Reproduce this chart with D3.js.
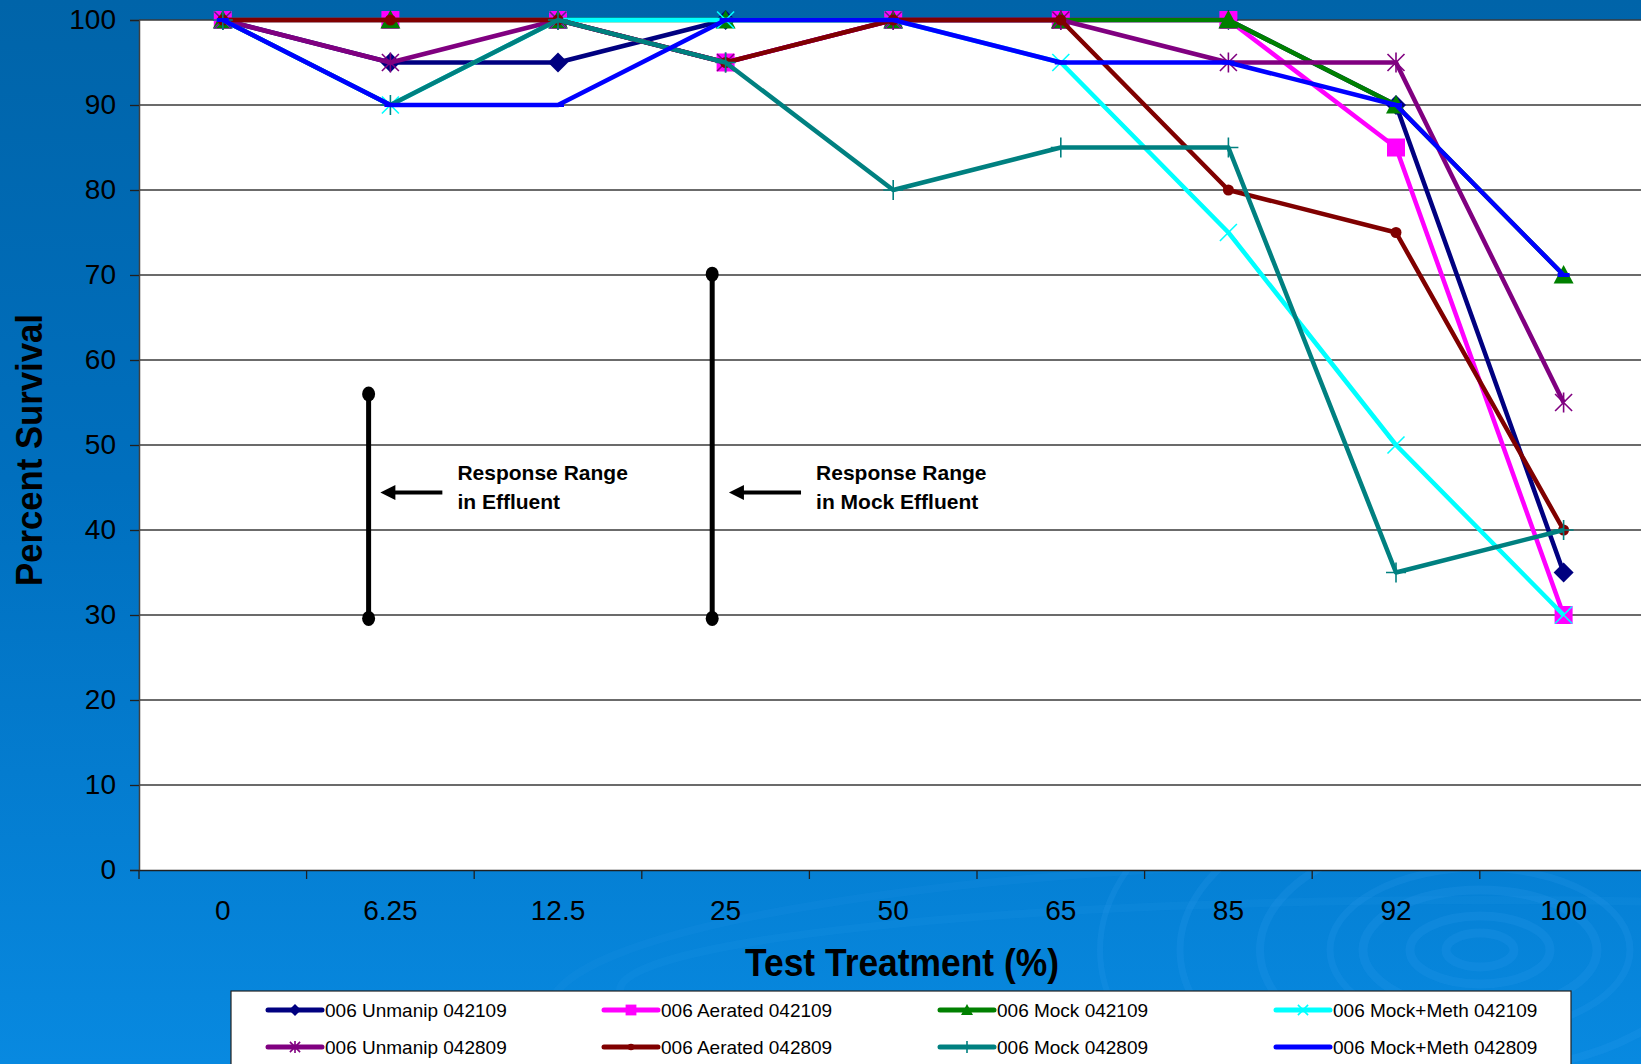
<!DOCTYPE html>
<html>
<head>
<meta charset="utf-8">
<script src="https://cdn.jsdelivr.net/npm/d3@7"></script>
<style>
html,body{margin:0;padding:0;overflow:hidden;background:#0070c0;}
svg{display:block;font-family:"Liberation Sans",Arial,sans-serif;}
</style>
</head>
<body>
<svg id="chart" width="1641" height="1064"></svg>
<script>
// ---------- data ----------
const categories = ["0","6.25","12.5","25","50","65","85","92","100"];
const seriesNames = [
  "006 Unmanip 042109","006 Aerated 042109","006 Mock 042109","006 Mock+Meth 042109",
  "006 Unmanip 042809","006 Aerated 042809","006 Mock 042809","006 Mock+Meth 042809"
];
const unmanip042109  = [100, 95, 95,100,100,100,100, 90, 35];
const aerated042109  = [100,100,100, 95,100,100,100, 85, 30];
const mock042109     = [100,100,100,100,100,100,100, 90, 70];
const mockMeth042109 = [100, 90,100,100,100, 95, 75, 50, 30];
const unmanip042809  = [100, 95,100, 95,100,100, 95, 95, 55];
const aerated042809  = [100,100,100, 95,100,100, 80, 75, 40];
const mock042809     = [100, 90,100, 95, 80, 85, 85, 35, 40];
const mockMeth042809 = [100, 90, 90,100,100, 95, 95, 90, 70];
const yTicks = [0,10,20,30,40,50,60,70,80,90,100];
// response-range annotations (category-index position, survival values)
const rangeBars = [
  {pos:0.87, lo:29.6, hi:56.0, arrowFrom:1.31, arrowTo:0.94, arrowAt:44.4, textPos:1.40, lines:["Response Range","in Effluent"]},
  {pos:2.92, lo:29.6, hi:70.1, arrowFrom:3.45, arrowTo:3.02, arrowAt:44.4, textPos:3.54, lines:["Response Range","in Mock Effluent"]}
];

const seriesValues = [unmanip042109, aerated042109, mock042109, mockMeth042109,
                      unmanip042809, aerated042809, mock042809, mockMeth042809];
const colors  = ["#000080","#FF00FF","#008000","#00FFFF","#800080","#800000","#008080","#0000FF"];
const markers = ["diamond","square","triangle","x","asterisk","circle","plus","dash"];

// ---------- layout ----------
const W = 1641, H = 1064;
const plotL = 139, plotT = 20, plotB = 870, band = 167.6;
const svg = d3.select("#chart");

// background gradient
const defs = svg.append("defs");
const g1 = defs.append("linearGradient").attr("id","bg").attr("x1",0).attr("y1",0).attr("x2",0).attr("y2",1);
g1.append("stop").attr("offset","0%").attr("stop-color","#0064a9");
g1.append("stop").attr("offset","45%").attr("stop-color","#006fbe");
g1.append("stop").attr("offset","100%").attr("stop-color","#0889e0");
svg.append("rect").attr("width",W).attr("height",H).attr("fill","url(#bg)");

// decorative rings
const rings = svg.append("g").attr("fill","none").attr("stroke","#3aa2f0").attr("stroke-opacity",0.16);
[[34,17,9],[70,34,9],[117,60,9],[150,82,7],[220,120,8],[300,165,7],[380,215,6]].forEach(r=>{
  rings.append("ellipse").attr("cx",1480).attr("cy",950).attr("rx",r[0]).attr("ry",r[1]).attr("stroke-width",r[2]);
});
rings.append("ellipse").attr("cx",1480).attr("cy",990).attr("rx",860).attr("ry",90).attr("stroke-width",8).attr("stroke-opacity",0.09);
rings.append("ellipse").attr("cx",1480).attr("cy",1010).attr("rx",930).attr("ry",150).attr("stroke-width",8).attr("stroke-opacity",0.08);

// scales
const x = d3.scaleBand().domain(categories).range([plotL, plotL + band*categories.length]).padding(0);
const y = d3.scaleLinear().domain([0,100]).range([plotB, plotT]);
const xi = d3.scaleLinear().domain([0, categories.length-1])
  .range([x(categories[0]) + x.bandwidth()/2, x(categories[categories.length-1]) + x.bandwidth()/2]);

// plot area
svg.append("rect").attr("x",plotL).attr("y",plotT).attr("width",W-plotL).attr("height",plotB-plotT).attr("fill","#ffffff");

// gridlines
svg.append("g").selectAll("line").data(yTicks.filter(v=>v>0)).join("line")
  .attr("x1",plotL).attr("x2",W).attr("y1",d=>y(d)).attr("y2",d=>y(d))
  .attr("stroke","#3a3a3a").attr("stroke-width",1.3);

// y axis
const yAxis = svg.append("g").attr("transform",`translate(${plotL},0)`)
  .call(d3.axisLeft(y).tickValues(yTicks).tickSize(9).tickPadding(14).tickFormat(d3.format("d")));
yAxis.select(".domain").attr("stroke","#404040").attr("stroke-width",1.5);
yAxis.selectAll(".tick line").attr("stroke","#202020").attr("stroke-width",1.3);
yAxis.selectAll("text").attr("font-size",28).attr("fill","#000").attr("font-family","Liberation Sans, Arial, sans-serif");

// x axis
const xAxis = svg.append("g").attr("transform",`translate(0,${plotB})`)
  .call(d3.axisBottom(x).tickSize(0).tickPadding(30));
xAxis.select(".domain").attr("stroke","#202020").attr("stroke-width",1.5);
xAxis.selectAll("text").attr("font-size",28).attr("fill","#000").attr("font-family","Liberation Sans, Arial, sans-serif");
// boundary ticks
svg.append("g").selectAll("line").data(d3.range(categories.length+1)).join("line")
  .attr("x1",i=>plotL+i*x.bandwidth()).attr("x2",i=>plotL+i*x.bandwidth())
  .attr("y1",plotB).attr("y2",plotB+9).attr("stroke","#202020").attr("stroke-width",1.3);

// axis titles
svg.append("text").attr("x",902).attr("y",963).attr("dy","0.35em").attr("text-anchor","middle")
  .attr("font-size",38).attr("font-weight","bold").attr("textLength",314).attr("lengthAdjust","spacingAndGlyphs")
  .text("Test Treatment (%)");
svg.append("text").attr("transform","translate(29,450) rotate(-90)").attr("dy","0.35em").attr("text-anchor","middle")
  .attr("font-size",37).attr("font-weight","bold").attr("textLength",272).attr("lengthAdjust","spacingAndGlyphs")
  .text("Percent Survival");

// marker drawing
function drawMarker(sel, type, color, s){
  const h = s/2;
  if(type==="diamond"){
    sel.append("path").attr("d",`M0,${-h}L${h},0L0,${h}L${-h},0Z`).attr("fill",color);
  } else if(type==="square"){
    sel.append("rect").attr("x",-h*0.9).attr("y",-h*0.9).attr("width",s*0.9).attr("height",s*0.9).attr("fill",color);
  } else if(type==="triangle"){
    sel.append("path").attr("d",`M0,${-h}L${h},${h*0.85}L${-h},${h*0.85}Z`).attr("fill",color);
  } else if(type==="circle"){
    sel.append("circle").attr("r",h*0.55).attr("fill",color);
  } else if(type==="x"){
    const k=h*0.85;
    sel.append("path").attr("d",`M${-k},${-k}L${k},${k}M${-k},${k}L${k},${-k}`).attr("stroke",color).attr("stroke-width",1.6).attr("fill","none");
  } else if(type==="asterisk"){
    const k=h*0.85;
    sel.append("path").attr("d",`M${-k},${-k}L${k},${k}M${-k},${k}L${k},${-k}M0,${-h}L0,${h}`).attr("stroke",color).attr("stroke-width",1.6).attr("fill","none");
  } else if(type==="plus"){
    sel.append("path").attr("d",`M${-h},0L${h},0M0,${-h}L0,${h}`).attr("stroke",color).attr("stroke-width",1.6).attr("fill","none");
  } else if(type==="dash"){
    sel.append("path").attr("d",`M${-h*0.6},0L${h*0.6},0`).attr("stroke",color).attr("stroke-width",4).attr("fill","none");
  }
}

// series
const line = d3.line().x((d,i)=>x(categories[i])+x.bandwidth()/2).y(d=>y(d));
seriesValues.forEach((vals, si)=>{
  const g = svg.append("g");
  g.append("path").attr("d",line(vals)).attr("fill","none").attr("stroke",colors[si])
    .attr("stroke-width",4.5).attr("stroke-linejoin","round");
  vals.forEach((v,i)=>{
    const m = g.append("g").attr("transform",`translate(${x(categories[i])+x.bandwidth()/2},${y(v)})`);
    drawMarker(m, markers[si], colors[si], 20);
  });
});

// annotations
const ann = svg.append("g");
rangeBars.forEach(r=>{
  const bx = xi(r.pos);
  ann.append("line").attr("x1",bx).attr("x2",bx).attr("y1",y(r.hi)).attr("y2",y(r.lo))
    .attr("stroke","#000").attr("stroke-width",5);
  [r.hi, r.lo].forEach(v=>ann.append("ellipse").attr("cx",bx).attr("cy",y(v)).attr("rx",6.5).attr("ry",7.5).attr("fill","#000"));
  const ay = y(r.arrowAt), x0 = xi(r.arrowFrom), x1 = xi(r.arrowTo);
  ann.append("line").attr("x1",x0).attr("x2",x1+12).attr("y1",ay).attr("y2",ay).attr("stroke","#000").attr("stroke-width",4);
  ann.append("path").attr("d",`M${x1},${ay}L${x1+15},${ay-7.5}L${x1+15},${ay+7.5}Z`).attr("fill","#000");
  r.lines.forEach((t,k)=>{
    ann.append("text").attr("x",xi(r.textPos)).attr("y",ay - 20 + k*29).attr("dy","0.35em")
      .attr("font-size",21).attr("font-weight","bold").attr("fill","#000").text(t);
  });
});

// legend
const leg = svg.append("g");
leg.append("rect").attr("x",231).attr("y",991).attr("width",1340).attr("height",100)
  .attr("fill","#fff").attr("stroke","#222").attr("stroke-width",1.2);
seriesNames.forEach((name, si)=>{
  const col = si % 4, row = Math.floor(si/4);
  const lx = 268 + col*336, ly = 1010 + row*37;
  const g = leg.append("g");
  g.append("line").attr("x1",lx).attr("x2",lx+54).attr("y1",ly).attr("y2",ly)
    .attr("stroke",colors[si]).attr("stroke-width",5).attr("stroke-linecap","round");
  const m = g.append("g").attr("transform",`translate(${lx+27},${ly})`);
  drawMarker(m, markers[si], colors[si], 12);
  g.append("text").attr("x",lx+57).attr("y",ly).attr("dy","0.35em").attr("font-size",19).attr("fill","#000").text(name);
});
</script>
</body>
</html>
